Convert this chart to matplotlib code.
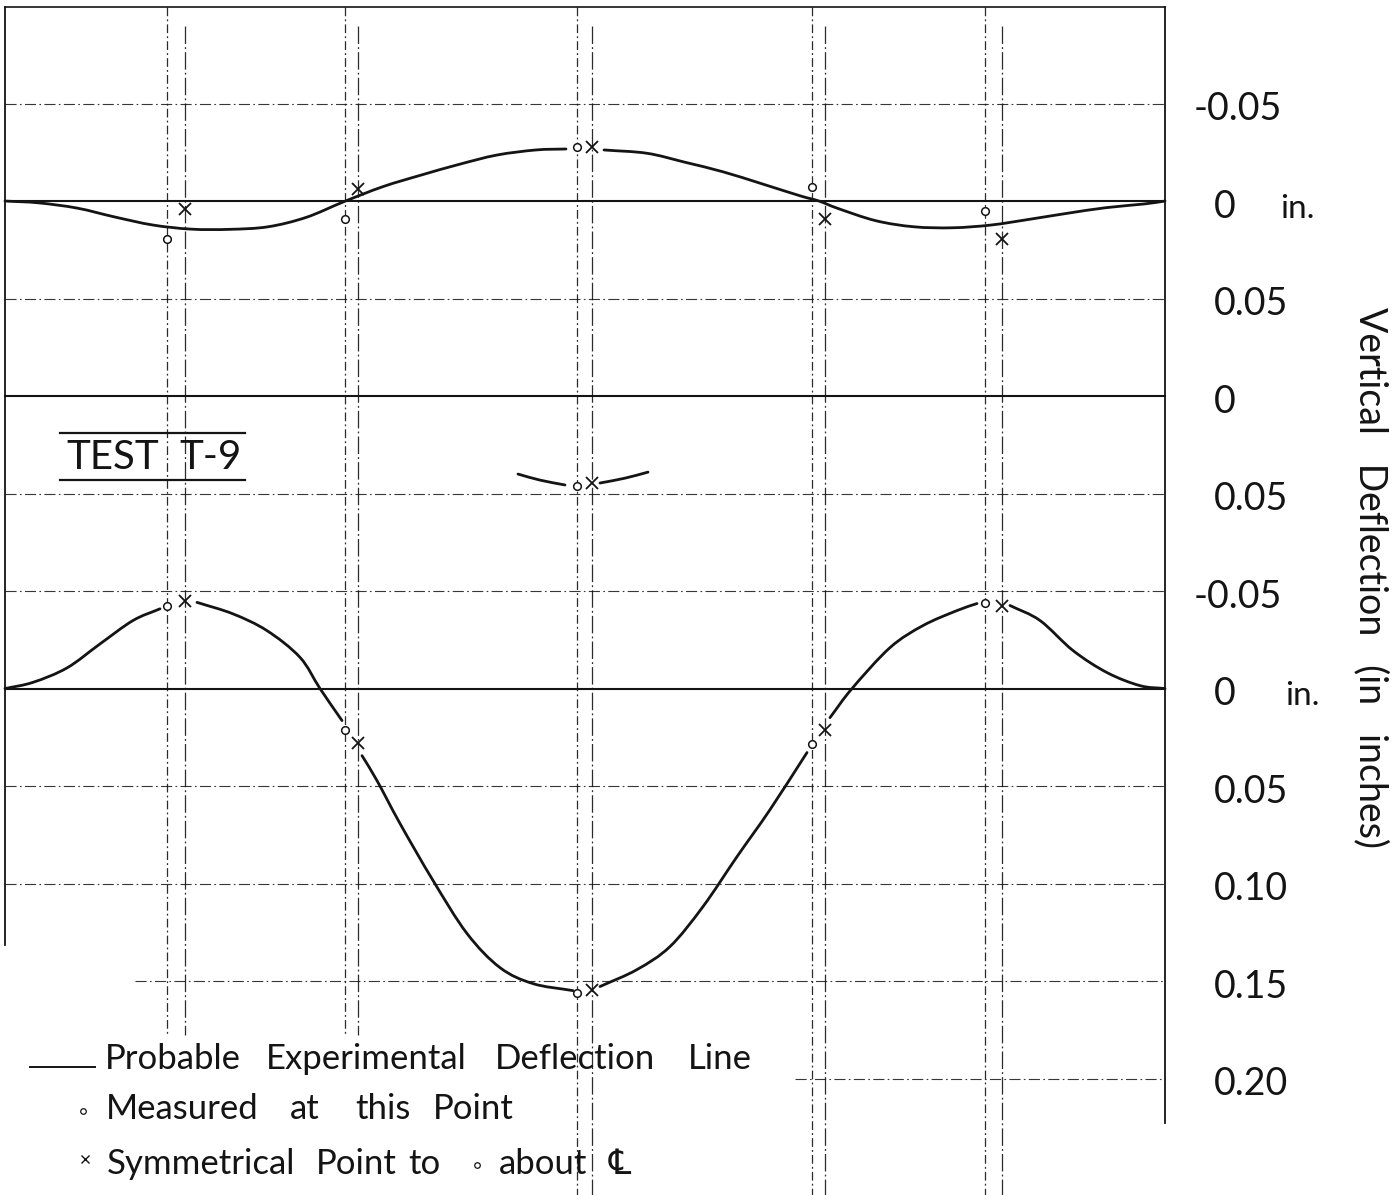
import matplotlib
matplotlib.use("Agg")
import matplotlib.pyplot as plt
from matplotlib.path import Path
from matplotlib.patches import PathPatch
import numpy as np

plt.rcParams['font.family'] = ['Lato', 'DejaVu Sans']

# ---- data -------------------------------------------------------------
# stations along span (0 = left support, 116 = right support, centreline 58)
span_end = 116.0
stations_measured = [16.2, 34.0, 57.2, 80.7, 98.0]
stations_symmetric = [18.0, 35.3, 58.7, 82.0, 99.7]

# vertical deflection (in), positive = downward
top_measured = [0.0195, 0.0092, -0.0277, -0.0072, 0.0051]
top_symmetric = [0.0041, -0.0062, -0.0277, 0.0092, 0.0195]
mid_measured = [0.0462]
mid_symmetric = [0.0446]
bot_measured = [-0.0421, 0.0215, 0.1559, 0.0282, -0.0441]
bot_symmetric = [-0.0451, 0.0277, 0.1544, 0.0210, -0.0421]

top_curve_x = [0, 3.3, 7.2, 11.0, 14.8, 18.6, 22.5, 26.3, 30.1, 33.9, 37.8, 41.6, 45.4,
               49.2, 53.1, 56.1, np.nan, 59.9, 64.2, 68.0, 71.8, 75.6, 79.5, 81.4, 83.3,
               87.1, 90.9, 94.8, 98.6, 102.4, 106.2, 110.1, 113.9, 116.0]
top_curve_y = [0, 0.0009, 0.0036, 0.0082, 0.0123, 0.0144, 0.0145, 0.0132, 0.0084, 0.0003,
               -0.0074, -0.0133, -0.0188, -0.0236, -0.0262, -0.0267, np.nan, -0.0262,
               -0.0245, -0.0199, -0.0150, -0.0090, -0.0027, 0.0, 0.0038, 0.0101, 0.0132,
               0.0137, 0.0123, 0.0094, 0.0063, 0.0034, 0.0015, 0]

mid_curve_x = [51.3, 53.5, 56.0, np.nan, 59.5, 62.0, 64.3]
mid_curve_y = [0.0400, 0.0431, 0.0456, np.nan, 0.0446, 0.0421, 0.0390]

bot_curve_x = [0, 2.8, 6.2, 9.5, 12.8, 15.5, np.nan,
               19.2, 22.8, 26.2, 29.5, 31.5, 33.7, np.nan,
               35.7, 37.2, 39.5, 42.8, 46.2, 49.5, 52.8, 56.8, np.nan,
               59.5, 63.2, 66.5, 69.8, 73.2, 76.5, 80.2, np.nan,
               82.5, 84.7, 88.5, 91.8, 95.2, 97.2, np.nan,
               100.5, 103.5, 106.8, 110.2, 113.5, 116.0]
bot_curve_y = [0, -0.0032, -0.0106, -0.0229, -0.0349, -0.0409, np.nan,
               -0.0442, -0.0383, -0.0297, -0.0160, 0.0, 0.0164, np.nan,
               0.0344, 0.0472, 0.0692, 0.0984, 0.1256, 0.1431, 0.1513, 0.1549, np.nan,
               0.1528, 0.1441, 0.1323, 0.1118, 0.0862, 0.0621, 0.0328, np.nan,
               0.0149, 0.0, -0.0210, -0.0323, -0.0400, -0.0436, np.nan,
               -0.0426, -0.0349, -0.0195, -0.0082, -0.0015, 0]

# baselines of the three diagrams on the common sheet (in)
top_zero = 0.0
mid_zero = 0.10
bot_zero = 0.25

grid_rows = [-0.05, 0.0, 0.05, 0.10, 0.15, 0.20, 0.25, 0.30, 0.35, 0.40, 0.45]
grid_labels = ['-0.05', '0', '0.05', '0', '0.05', '-0.05', '0', '0.05', '0.10', '0.15', '0.20']

ink = '#141414'


def smooth_curve(ax, xs, ys, offset, **kw):
    """Draw a hand-faired (Catmull-Rom) line through each NaN-separated run of points."""
    xs = np.asarray(xs, float)
    ys = np.asarray(ys, float) + offset
    breaks = np.where(np.isnan(xs))[0]
    starts = np.r_[0, breaks + 1]
    ends = np.r_[breaks, len(xs)]
    for s, e in zip(starts, ends):
        P = np.column_stack([xs[s:e], ys[s:e]])
        n = len(P)
        if n < 2:
            continue
        ext = np.vstack([P[0] - (P[1] - P[0]), P, P[-1] + (P[-1] - P[-2])])
        verts = [P[0]]
        codes = [Path.MOVETO]
        for i in range(n - 1):
            p0, p1, p2, p3 = ext[i], ext[i + 1], ext[i + 2], ext[i + 3]
            c1 = p1 + (p2 - p0) / 6.0
            c2 = p2 - (p3 - p1) / 6.0
            verts += [c1, c2, p2]
            codes += [Path.CURVE4] * 3
        ax.add_patch(PathPatch(Path(verts, codes), fill=False, **kw))


# ---- figure ---------------------------------------------------------------
fig = plt.figure(figsize=(14, 11.95), dpi=100)
ax = fig.add_axes([0, 0, 1, 1])
ax.set_xlim(-0.5, 139.5)
ax.set_ylim(0.5097, -0.1031)
ax.axis('off')

# sheet frame
ax.plot([0, span_end], [-0.0995, -0.0995], color=ink, lw=1.2)
ax.plot([0, 0], [-0.0995, 0.3815], color=ink, lw=1.3)
ax.plot([span_end, span_end], [-0.0995, 0.473], color=ink, lw=1.3)

# horizontal grid
solid_rows = [0.0, 0.10, 0.25]
for r in grid_rows:
    if r in solid_rows:
        ax.plot([0, span_end], [r, r], color=ink, lw=1.5, zorder=2)
    else:
        start = 0.0
        if abs(r - 0.40) < 1e-9:
            start = 13.0
        if abs(r - 0.45) < 1e-9:
            start = 79.0
        ax.plot([start, span_end], [r, r], color=ink, lw=0.8,
                linestyle=(0, (10, 3, 1.5, 3)), alpha=0.85, zorder=1)

# vertical station lines
for i, (sm, ss) in enumerate(zip(stations_measured, stations_symmetric)):
    bottom = 0.4277 if i < 2 else 0.5097
    ax.plot([sm, sm], [-0.0995, bottom], color=ink, lw=0.9,
            linestyle=(0, (7, 2.5, 1.5, 2.5)), alpha=0.9, zorder=1)
    ax.plot([ss, ss], [-0.09, bottom], color=ink, lw=0.9,
            linestyle=(0, (14, 2.5, 1.5, 2.5)), alpha=0.9, zorder=1)

# deflection curves
line_kw = dict(edgecolor=ink, lw=2.0, zorder=3, capstyle='round', joinstyle='round')
smooth_curve(ax, top_curve_x, top_curve_y, top_zero, **line_kw)
smooth_curve(ax, mid_curve_x, mid_curve_y, mid_zero, **line_kw)
smooth_curve(ax, bot_curve_x, bot_curve_y, bot_zero, **line_kw)

# measured points (circles) and symmetrical points (crosses)
circ = dict(marker='o', ms=5.5, mfc='white', mec=ink, mew=1.1, ls='none', zorder=4)
cross = dict(marker='x', ms=8, mec=ink, mew=1.3, ls='none', zorder=4)
ax.plot(stations_measured, np.array(top_measured) + top_zero, **circ)
ax.plot(stations_symmetric, np.array(top_symmetric) + top_zero, **cross)
ax.plot(stations_measured[2:3], np.array(mid_measured) + mid_zero, **circ)
ax.plot(stations_symmetric[2:3], np.array(mid_symmetric) + mid_zero, **cross)
ax.plot(stations_measured, np.array(bot_measured) + bot_zero, **circ)
ax.plot(stations_symmetric, np.array(bot_symmetric) + bot_zero, **cross)

# right-hand scale labels
fs = 27
for r, lab in zip(grid_rows, grid_labels):
    xpos = 118.9 if lab.startswith('-') else 120.9
    ax.text(xpos, r + 0.003, lab, fontsize=fs, color=ink, ha='left', va='center')
for r in (top_zero, bot_zero):
    ax.text(127.5 if r == 0 else 128.0, r + 0.004, 'in.', fontsize=24, color=ink,
            ha='left', va='center')

ax.text(136.6, 0.193, 'Vertical   Deflection   (in   inches)', fontsize=27, color=ink,
        rotation=270, ha='center', va='center')

# test label
ax.text(6.1, 0.1315, 'TEST', fontsize=29, color=ink, ha='left', va='center')
ax.text(17.4, 0.1315, 'T-9', fontsize=29, color=ink, ha='left', va='center')
ax.plot([5.5, 24.0], [0.1190, 0.1190], color=ink, lw=1.6)
ax.plot([5.5, 24.0], [0.1430, 0.1430], color=ink, lw=1.6)

# legend block
ax.plot([2.5, 9.0], [0.4441, 0.4441], color=ink, lw=1.4)
words1 = [('Probable', 10.0), ('Experimental', 26.1), ('Deflection', 49.0), ('Line', 68.3)]
for w, x in words1:
    ax.text(x, 0.4400, w, fontsize=25, color=ink, ha='left', va='center')
ax.plot([7.8], [0.4665], marker='o', ms=4, mfc='white', mec=ink, mew=0.9)
words2 = [('Measured', 10.1), ('at', 28.5), ('this', 35.0), ('Point', 42.8)]
for w, x in words2:
    ax.text(x, 0.4657, w, fontsize=25, color=ink, ha='left', va='center')
ax.plot([8.0], [0.4910], marker='x', ms=6, mec=ink, mew=1.0)
words3 = [('Symmetrical', 10.2), ('Point', 31.1), ('to', 40.3), ('about', 49.4), ('\u2104', 60.4)]
for w, x in words3:
    ax.text(x, 0.4940, w, fontsize=25, color=ink, ha='left', va='center')
ax.plot([47.2], [0.4945], marker='o', ms=4, mfc='white', mec=ink, mew=0.9)

fig.savefig('out.png', dpi=100, facecolor='white')
